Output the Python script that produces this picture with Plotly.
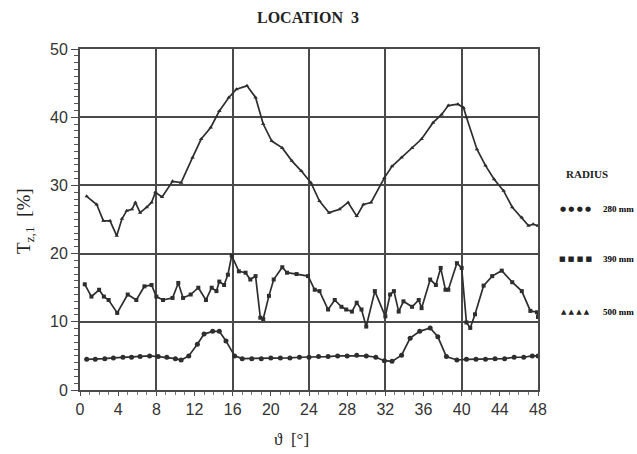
import plotly.graph_objects as go

# ---- data ----
theta_280 = [0.7, 1.6, 2.6, 3.5, 4.5, 5.4, 6.3, 7.3, 8.2, 9.1, 10.0, 10.6, 11.4, 12.3, 13.0, 13.9,
             14.6, 15.3, 16.2, 17.0, 18.0, 19.0, 20.0, 21.0, 22.0, 23.0, 24.0, 25.0, 26.0, 27.0,
             28.0, 29.0, 30.0, 31.0, 31.9, 32.7, 33.7, 34.6, 35.6, 36.7, 37.5, 38.4, 39.5, 40.5,
             41.5, 42.5, 43.5, 44.5, 45.5, 46.5, 47.4, 48.0]
tz_280 = [4.5, 4.5, 4.6, 4.7, 4.8, 4.8, 4.9, 5.0, 4.9, 4.8, 4.6, 4.4, 5.0, 6.7, 8.2, 8.6,
          8.6, 7.2, 5.0, 4.6, 4.6, 4.6, 4.7, 4.7, 4.7, 4.8, 4.8, 4.9, 4.9, 5.0,
          5.0, 5.1, 5.0, 4.8, 4.3, 4.2, 5.1, 7.6, 8.6, 9.1, 7.8, 4.9, 4.4, 4.5,
          4.5, 4.5, 4.6, 4.6, 4.8, 4.8, 5.0, 5.0]

theta_390 = [0.5, 1.2, 2.0, 2.5, 3.0, 3.9, 5.0, 5.9, 6.75, 7.5, 8.0, 8.7, 9.7, 10.3, 10.8, 11.6,
             12.4, 13.2, 13.8, 14.3, 14.6, 15.1, 15.5, 15.9, 16.65, 17.35, 17.85, 18.4, 18.9,
             19.2, 19.8, 20.3, 21.2, 21.7, 22.7, 23.9, 24.6, 25.1, 26.0, 26.7, 27.4, 27.9, 28.5,
             29.0, 29.5, 30.0, 30.9, 32.0, 32.5, 32.9, 33.4, 33.9, 34.8, 35.5, 35.8, 36.7, 37.3,
             37.8, 38.3, 38.6, 39.5, 40.0, 40.5, 40.9, 41.4, 42.3, 43.2, 44.2, 45.3, 46.3, 47.2,
             47.9, 48.0]
tz_390 = [15.5, 13.7, 14.7, 13.7, 13.2, 11.3, 14.0, 13.2, 15.2, 15.4, 13.7, 13.2, 13.5, 15.7, 13.5, 14.0,
          15.0, 13.2, 15.0, 14.5, 15.9, 15.4, 16.9, 19.7, 17.4, 17.2, 16.2, 16.7, 10.6,
          10.4, 13.8, 16.2, 18.0, 17.2, 17.0, 16.7, 14.7, 14.5, 11.8, 13.2, 12.2, 11.8, 11.5,
          12.8, 11.8, 9.3, 14.5, 10.8, 14.0, 14.5, 11.5, 13.0, 12.2, 13.2, 12.0, 16.2, 15.4,
          17.9, 14.7, 14.7, 18.6, 17.9, 9.9, 9.1, 11.1, 15.3, 16.7, 17.5, 15.8, 14.5, 11.6,
          11.4, 10.7]

theta_500 = [0.7, 1.75, 2.45, 3.15, 3.85, 4.4, 4.9, 5.45, 5.8, 6.3, 7.0, 7.5, 7.9, 8.6, 9.7, 10.6,
             11.8, 12.7, 13.7, 14.6, 15.6, 16.4, 17.5, 18.4, 19.2, 20.1, 21.2, 22.2, 23.2, 24.2,
             25.1, 26.1, 27.2, 28.1, 29.0, 29.7, 30.5, 31.9, 32.7, 33.7, 34.8, 35.8, 37.0, 37.9,
             38.6, 39.6, 40.2, 40.5, 41.6, 42.5, 43.4, 44.4, 45.3, 46.3, 47.0, 47.5, 48.0]
tz_500 = [28.4, 27.2, 24.8, 24.8, 22.6, 25.1, 26.3, 26.5, 27.5, 26.0, 26.8, 27.5, 29.0, 28.3, 30.6, 30.4,
          34.1, 36.8, 38.5, 40.9, 42.9, 44.1, 44.6, 42.9, 39.0, 36.5, 35.5, 33.6, 32.1, 30.4,
          27.7, 26.0, 26.5, 27.5, 25.5, 27.2, 27.5, 31.1, 32.8, 34.1, 35.5, 36.8, 39.2, 40.4,
          41.7, 41.9, 41.4, 40.0, 35.3, 32.9, 30.9, 29.2, 26.8, 25.3, 24.1, 24.3, 24.1]

x_ticks = [0, 4, 8, 12, 16, 20, 24, 28, 32, 36, 40, 44, 48]
y_ticks = [0, 10, 20, 30, 40, 50]
legend_labels = ["280 mm", "390 mm", "500 mm"]

LINE = "#2e2e2e"
GRID = "#4a4a4a"

fig = go.Figure()
series = [
    (theta_280, tz_280, "circle", 5),
    (theta_390, tz_390, "square", 4),
    (theta_500, tz_500, "triangle-up", 4),
]
for (xs, ys, sym, sz), name in zip(series, legend_labels):
    fig.add_trace(go.Scatter(x=xs, y=ys, mode="lines+markers", name=name,
                             line=dict(color=LINE, width=1.7),
                             marker=dict(symbol=sym, size=sz, color=LINE),
                             showlegend=False))
# empty trace to activate the grid-only overlay axis
fig.add_trace(go.Scatter(x=[], y=[], xaxis="x2", yaxis="y", showlegend=False))

tickfont = dict(family="Liberation Sans, Arial, sans-serif", size=16, color="#333")
fig.update_layout(
    width=637, height=454,
    margin=dict(l=80, r=99, t=49, b=63.5),
    paper_bgcolor="white", plot_bgcolor="white",
    xaxis=dict(range=[0, 48], tickvals=x_ticks, ticktext=[str(v) for v in x_ticks],
               showgrid=False, zeroline=False, showline=True, mirror=True,
               linecolor=GRID, linewidth=2, ticks="outside", ticklen=4, tickcolor=GRID,
               tickfont=tickfont,
               minor=dict(dtick=1, ticks="outside", ticklen=3, tickcolor="#777")),
    xaxis2=dict(range=[0, 48], overlaying="x", dtick=8, tick0=0, showgrid=True,
                gridcolor=GRID, gridwidth=1.6, showticklabels=False, ticks="",
                zeroline=False, showline=False, side="bottom"),
    yaxis=dict(range=[0, 50], tickvals=y_ticks, showgrid=True, gridcolor=GRID, gridwidth=1.6,
               zeroline=False, showline=True, mirror=True, linecolor=GRID, linewidth=2,
               ticks="outside", ticklen=7, tickcolor=GRID, tickfont=tickfont,
               minor=dict(dtick=1, ticks="outside", ticklen=4, tickcolor="#555")),
)

serif = "Liberation Serif, DejaVu Serif, serif"


def note(text, x, y, size, family=serif, angle=0, color="#222"):
    fig.add_annotation(text=text, xref="paper", yref="paper", x=x, y=y,
                       xanchor="center", yanchor="middle", showarrow=False,
                       textangle=angle, font=dict(family=family, size=size, color=color))


note("<b>LOCATION  3</b>", 0.497, 1.091, 16)
note("T<sub>z,1</sub>  [%]", -0.12, 0.493, 19, angle=-90)
note("ϑ  [°]", 0.462, -0.145, 17)
note("<b>RADIUS</b>", 1.107, 0.634, 11)
symbols = ["● ● ● ●", "■ ■ ■ ■", "▲ ▲ ▲ ▲"]
ys_leg = [0.531, 0.385, 0.230]
for s, lab, yy in zip(symbols, legend_labels, ys_leg):
    note(s, 1.081, yy, 7, family="DejaVu Sans")
    note("<b>" + lab + "</b>", 1.175, yy, 9, color="#000000")

fig.write_html("out.html")
